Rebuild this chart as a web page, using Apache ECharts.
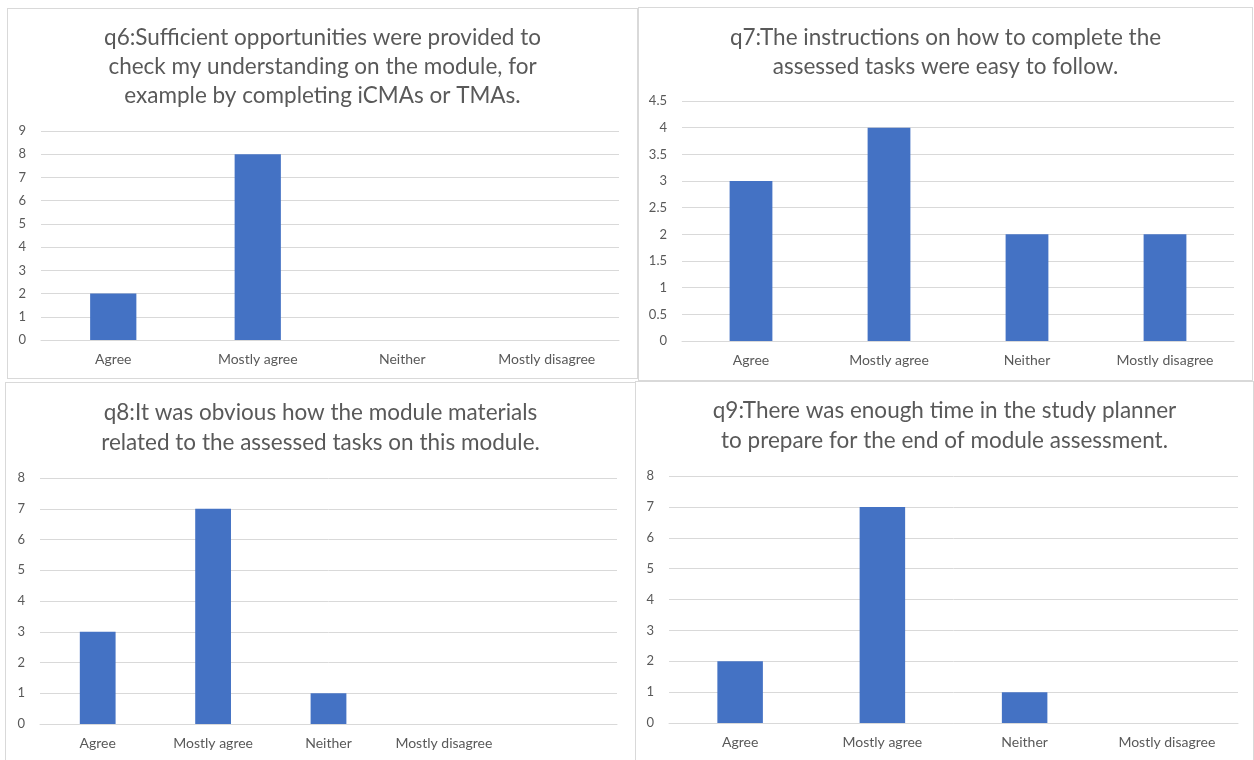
<!DOCTYPE html>
<html>
<head>
<meta charset="utf-8">
<script src="https://cdn.jsdelivr.net/npm/echarts@6/dist/echarts.min.js"></script>
<style>
  html, body {
    margin: 0;
    padding: 0;
    background: #ffffff;
  }
  .page {
    position: relative;
    width: 1254px;
    height: 760px;
    overflow: hidden;
  }
  .panel {
    position: absolute;
    box-sizing: border-box;
    border: 1px solid #d9d9d9;
    background: #ffffff;
  }
</style>
</head>
<body>
<div class="page">
  <div id="q6" class="panel" style="left:7px;top:8px;width:631px;height:371px;"></div>
  <div id="q7" class="panel" style="left:638px;top:7px;width:615px;height:374px;"></div>
  <div id="q8" class="panel" style="left:5px;top:382px;width:631px;height:384px;"></div>
  <div id="q9" class="panel" style="left:635px;top:381px;width:619px;height:384px;"></div>
</div>
<script>
const categories = ['Agree', 'Mostly agree', 'Neither', 'Mostly disagree']
// q8 chart has an empty fifth slot on its axis
const q8Categories = ['Agree', 'Mostly agree', 'Neither', 'Mostly disagree', '']

const q6Values = [2, 8, 0, 0]
const q7Values = [3, 4, 2, 2]
const q8Values = [3, 7, 1, 0, null]
const q9Values = [2, 7, 1, 0]

const q6Title = 'q6:Sufficient opportunities were provided to\ncheck my understanding on the module, for\nexample by completing iCMAs or TMAs.'
const q7Title = 'q7:The instructions on how to complete the\nassessed tasks were easy to follow.'
const q8Title = 'q8:It was obvious how the module materials\nrelated to the assessed tasks on this module.'
const q9Title = 'q9:There was enough time in the study planner\nto prepare for the end of module assessment.'

const textColor = '#595959'
const gridColor = '#d9d9d9'
const barColor = '#4472c4'
const fontFamily = 'Lato, "Liberation Sans", sans-serif'

function makeChart(id, opts) {
  const chart = echarts.init(document.getElementById(id), null, { renderer: 'canvas' })
  chart.setOption({
    animation: false,
    title: {
      text: opts.title,
      left: 'center',
      top: opts.titleTop,
      textStyle: {
        color: textColor,
        fontFamily: fontFamily,
        fontSize: 22.5,
        fontWeight: 'normal',
        lineHeight: opts.lineHeight
      }
    },
    grid: opts.grid,
    xAxis: {
      type: 'category',
      data: opts.categories,
      axisLine: { lineStyle: { color: gridColor, width: 1 } },
      axisTick: { show: false },
      axisLabel: {
        color: textColor,
        fontFamily: fontFamily,
        fontSize: 14,
        margin: 12,
        interval: 0
      }
    },
    yAxis: {
      type: 'value',
      min: 0,
      max: opts.max,
      interval: opts.interval,
      axisLine: { show: false },
      axisTick: { show: false },
      splitLine: { lineStyle: { color: gridColor, width: 1 } },
      axisLabel: {
        color: textColor,
        fontFamily: fontFamily,
        fontSize: 13,
        margin: 15
      }
    },
    series: [
      {
        type: 'bar',
        data: opts.values,
        barWidth: opts.barWidth,
        itemStyle: { color: barColor }
      }
    ]
  })
  return chart
}

makeChart('q6', {
  title: q6Title,
  titleTop: 9,
  lineHeight: 29,
  grid: { left: 33, top: 122, width: 578, height: 209 },
  categories: categories,
  values: q6Values,
  max: 9,
  interval: 1,
  barWidth: '32%'
})

makeChart('q7', {
  title: q7Title,
  titleTop: 10,
  lineHeight: 29,
  grid: { left: 43, top: 93, width: 552, height: 240 },
  categories: categories,
  values: q7Values,
  max: 4.5,
  interval: 0.5,
  barWidth: '31%'
})

makeChart('q8', {
  title: q8Title,
  titleTop: 10,
  lineHeight: 30,
  grid: { left: 34, top: 95, width: 577, height: 246 },
  categories: q8Categories,
  values: q8Values,
  max: 8,
  interval: 1,
  barWidth: '31%'
})

makeChart('q9', {
  title: q9Title,
  titleTop: 9,
  lineHeight: 30,
  grid: { left: 33, top: 94, width: 569, height: 247 },
  categories: categories,
  values: q9Values,
  max: 8,
  interval: 1,
  barWidth: '32%'
})
</script>
</body>
</html>
